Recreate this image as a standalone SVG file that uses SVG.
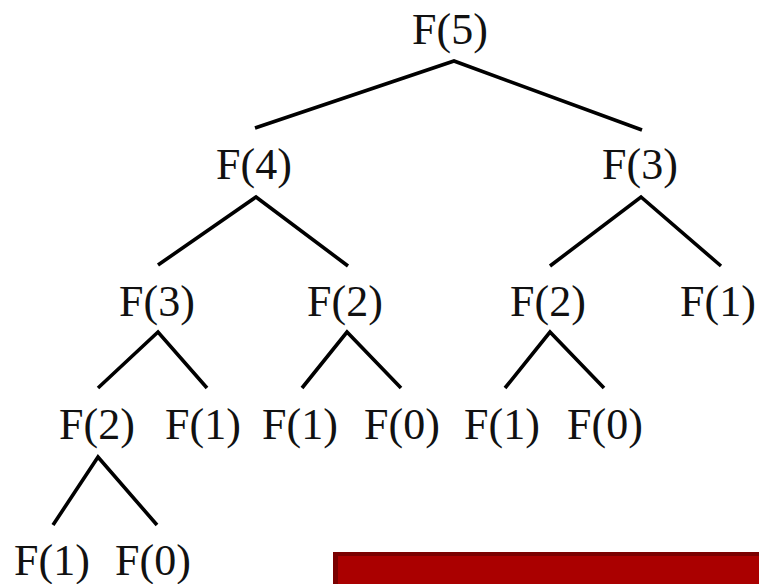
<svg xmlns="http://www.w3.org/2000/svg" width="759" height="584" viewBox="0 0 759 584">
<style>
.lbl{font-family:"Liberation Serif","Times New Roman",serif;font-size:44px;fill:#111;text-anchor:middle}
.edge{stroke:#000;stroke-width:3.6;fill:none;stroke-linecap:butt;stroke-linejoin:miter}
</style>
<rect width="759" height="584" fill="#fff"/>
<g id="connectors">
<polyline class="edge" points="255,128 454,61 642,130"/>
<polyline class="edge" points="158,265 256,197 348,266"/>
<polyline class="edge" points="550,266 641,197 721,266"/>
<polyline class="edge" points="98,388 158,332 207,388"/>
<polyline class="edge" points="302,388 347,332 401,388"/>
<polyline class="edge" points="505,388 550,332 604,388"/>
<polyline class="edge" points="53,525 98,457 157,525"/>
</g>
<g id="n-f5"><text class="lbl" x="450" y="44">F(5)</text></g>
<g id="n-f4"><text class="lbl" x="254" y="179">F(4)</text></g>
<g id="n-f3a"><text class="lbl" x="640" y="179">F(3)</text></g>
<g id="n-f3b"><text class="lbl" x="157" y="316">F(3)</text></g>
<g id="n-f2a"><text class="lbl" x="345" y="316">F(2)</text></g>
<g id="n-f2b"><text class="lbl" x="548" y="316">F(2)</text></g>
<g id="n-f1a"><text class="lbl" x="718" y="316">F(1)</text></g>
<g id="n-f2c"><text class="lbl" x="97" y="439">F(2)</text></g>
<g id="n-f1b"><text class="lbl" x="203" y="439">F(1)</text></g>
<g id="n-f1c"><text class="lbl" x="300" y="439">F(1)</text></g>
<g id="n-f0a"><text class="lbl" x="402" y="439">F(0)</text></g>
<g id="n-f1d"><text class="lbl" x="502" y="439">F(1)</text></g>
<g id="n-f0b"><text class="lbl" x="605" y="439">F(0)</text></g>
<g id="n-f1e"><text class="lbl" x="52" y="575">F(1)</text></g>
<g id="n-f0c"><text class="lbl" x="153" y="575">F(0)</text></g>
<g id="banner">
<rect x="333" y="552" width="426" height="32" fill="#7a0000"/>
<rect x="338" y="556" width="421" height="28" fill="#aa0000"/>
</g>
</svg>
